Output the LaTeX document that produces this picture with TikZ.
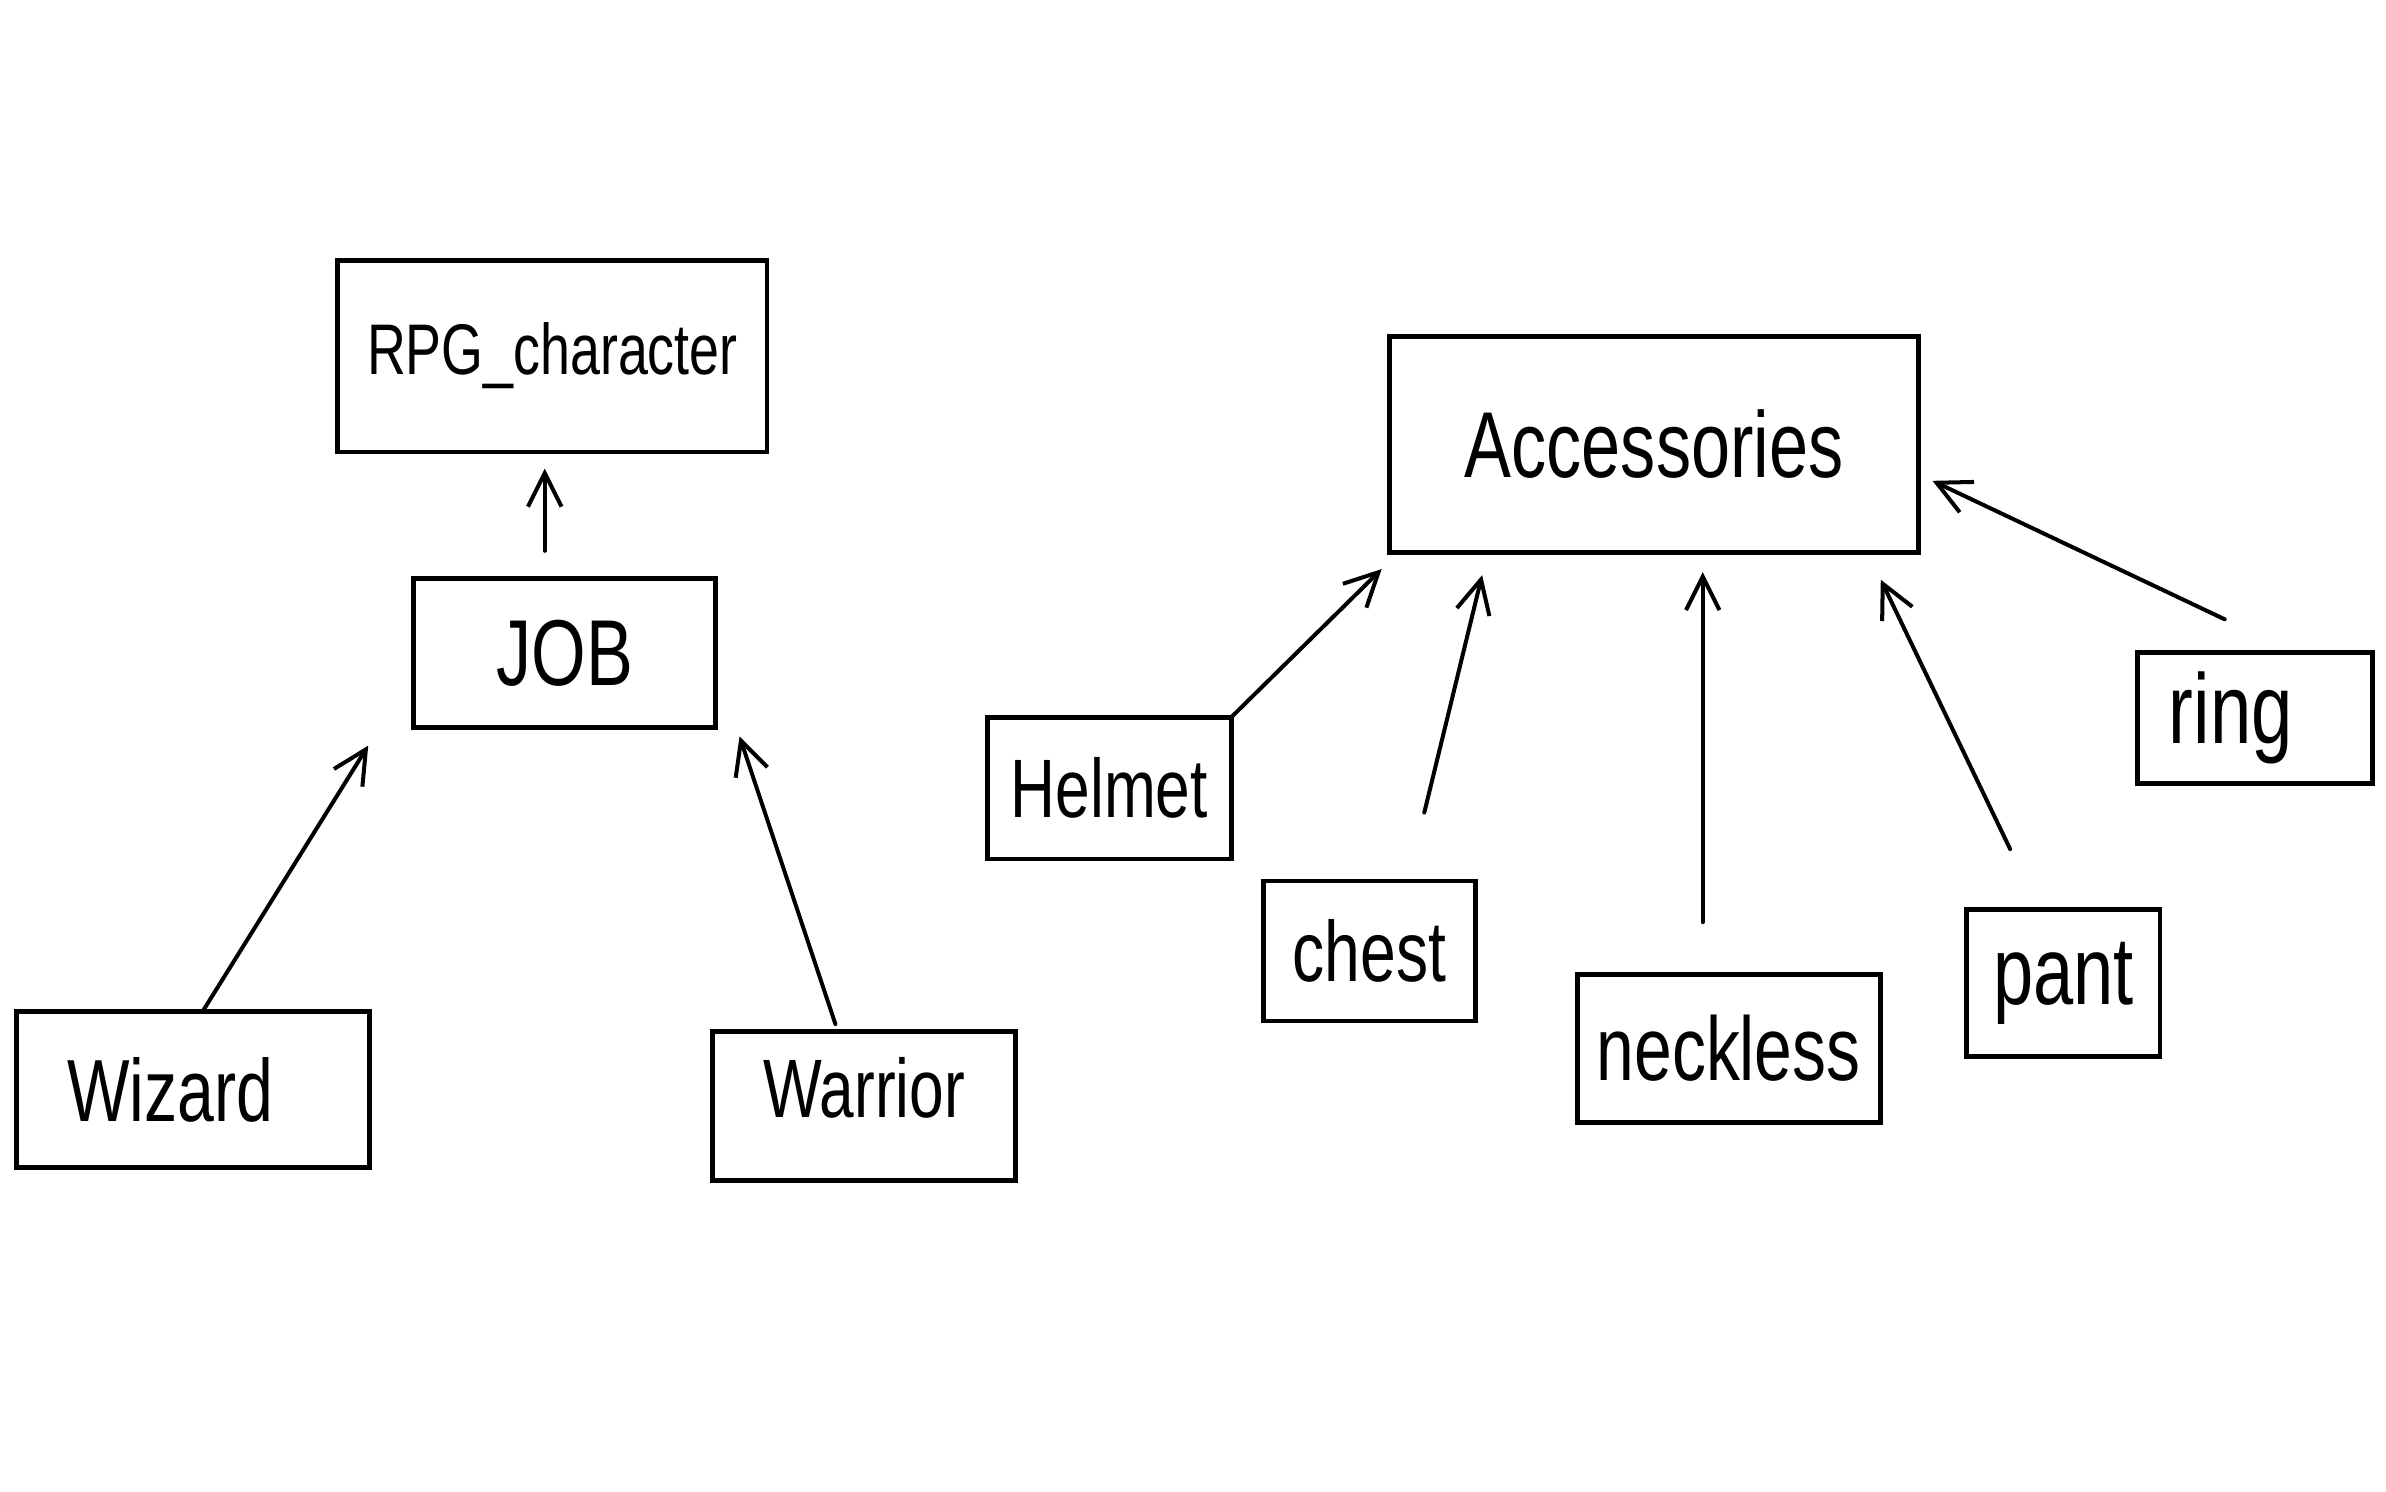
\documentclass[tikz,border=0pt]{standalone}
\usepackage{fontspec}
\setmainfont{Liberation Sans}[FakeStretch=0.75]
\usepackage{tikz}
\usetikzlibrary{arrows.meta}

\begin{document}
\begin{tikzpicture}[
  x=0.01cm, y=-0.01cm,
  box/.style={draw, line width=0.9pt, inner sep=0pt, outer sep=0pt},
  sz/.style={font=\fontsize{#1}{#1}\selectfont},
  arr/.style={-{Straight Barb[length=2.2mm,width=2.2mm]}, line width=0.75pt, line cap=round}
]
  \useasboundingbox (0,0) rectangle (1568,980);

  % Character side
  \node[box, sz=13.4, minimum width=2.82cm, minimum height=1.26cm] (rpg) at (363,234) {RPG\_character};
  \node[box, sz=17.5, minimum width=1.98cm, minimum height=0.98cm] (job) at (371,429) {JOB};
  \node[box, minimum width=2.32cm, minimum height=1.02cm,
        label={[sz=16.5, xshift=-0.15cm]center:Wizard}] (wizard) at (127,716) {};
  \node[box, minimum width=1.99cm, minimum height=0.98cm,
        label={[sz=15.5, yshift=0.12cm]center:Warrior}] (warrior) at (568,727) {};

  % Accessories side
  \node[box, sz=17.5, minimum width=3.47cm, minimum height=1.42cm] (acc) at (1087,292) {Accessories};
  \node[box, sz=15.5, minimum width=1.60cm, minimum height=0.93cm] (helmet) at (729,518) {Helmet};
  \node[box, sz=16, minimum width=1.39cm, minimum height=0.92cm] (chest) at (900,625) {chest};
  \node[box, sz=16.9, minimum width=1.99cm, minimum height=0.97cm] (neckless) at (1136,689) {neckless};
  \node[box, sz=18, minimum width=1.27cm, minimum height=0.97cm] (pant) at (1356,646) {pant};
  \node[box, minimum width=1.54cm, minimum height=0.86cm,
        label={[sz=18.5, xshift=-0.16cm]center:ring}] (ring) at (1482,472) {};

  % free ends of the arrows
  \coordinate (jobfoot) at (358,362);
  \coordinate (jobhead) at (358,308);
  \coordinate (wizhead) at (242,490);
  \coordinate (warfoot) at (549,673);
  \coordinate (warhead) at (486,484);
  \coordinate (helhead) at (908,374);
  \coordinate (chefoot) at (936,534);
  \coordinate (chehead) at (974,378);
  \coordinate (necfoot) at (1119,606);
  \coordinate (nechead) at (1119,376);
  \coordinate (panfoot) at (1321,558);
  \coordinate (panhead) at (1236,381);
  \coordinate (rinfoot) at (1462,407);
  \coordinate (rinhead) at (1270,316);

  \draw[arr] (jobfoot) -- (jobhead);
  \draw[arr] ([xshift=0.06cm]wizard.north) -- (wizhead);
  \draw[arr] (warfoot) -- (warhead);
  \draw[arr] (helmet.north east) -- (helhead);
  \draw[arr] (chefoot) -- (chehead);
  \draw[arr] (necfoot) -- (nechead);
  \draw[arr] (panfoot) -- (panhead);
  \draw[arr] (rinfoot) -- (rinhead);
\end{tikzpicture}
\end{document}
